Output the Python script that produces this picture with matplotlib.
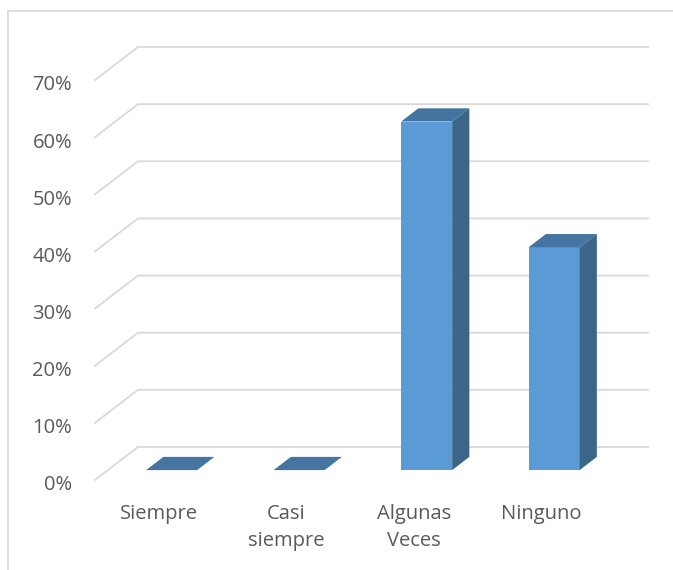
import matplotlib.pyplot as plt
from matplotlib.patches import Polygon
from matplotlib.lines import Line2D

plt.rcParams['font.family'] = ['Open Sans', 'DejaVu Sans']

categorias = ['Siempre', 'Casi\nsiempre', 'Algunas\nVeces', 'Ninguno']
valores = [0.0, 0.0, 0.61, 0.39]
ticks = [0.0, 0.1, 0.2, 0.3, 0.4, 0.5, 0.6, 0.7]
tick_labels = ['0%', '10%', '20%', '30%', '40%', '50%', '60%', '70%']

# profundidad del efecto 3D (en unidades de datos)
DX, DY = 0.337, 0.0578
d1, d2 = 0.3, 0.7      # cara frontal y trasera de las columnas
ancho = 0.4

c_frente = '#5b9bd5'
c_lado = '#3b6589'
c_techo = '#44749f'
c_grid = '#d9d9d9'
c_texto = '#595959'

W, H = 673, 570
fig = plt.figure(figsize=(W / 100, H / 100), dpi=100)

# marco del grafico
fig.add_artist(Line2D([8 / W, 8 / W], [0, 1 - 11 / H], color=c_grid, lw=1.2))
fig.add_artist(Line2D([8 / W, 1], [1 - 11 / H, 1 - 11 / H], color=c_grid, lw=1.2))

ax = fig.add_axes([95 / W, (H - 480) / H, (648 - 95) / W, (480 - 47) / H])
ax.set_xlim(-0.5, 3.5 + DX)
ax.set_ylim(0, 0.7 + DY)
ax.axis('off')

# lineas de division: tramo lateral + pared del fondo
for t, lab in zip(ticks, tick_labels):
    ax.plot([-0.5, -0.5 + DX, 3.5 + DX], [t, t + DY, t + DY],
            color=c_grid, lw=1.3, clip_on=False, zorder=1)
    ax.text(-0.68, t - 0.0095, lab, ha='right', va='center', fontsize=14.5,
            color=c_texto, clip_on=False)

for i, (cat, v) in enumerate(zip(categorias, valores)):
    xl = i - ancho / 2 + d1 * DX
    xr = i + ancho / 2 + d1 * DX
    y0 = d1 * DY
    ox, oy = (d2 - d1) * DX, (d2 - d1) * DY
    if v > 0:
        ax.add_patch(Polygon([(xl, y0), (xr, y0), (xr, y0 + v), (xl, y0 + v)],
                             closed=True, fc=c_frente, ec='none', zorder=3))
        ax.add_patch(Polygon([(xr, y0), (xr + ox, y0 + oy), (xr + ox, y0 + v + oy),
                              (xr, y0 + v)], closed=True, fc=c_lado, ec='none', zorder=3))
    ax.add_patch(Polygon([(xl, y0 + v), (xr, y0 + v), (xr + ox, y0 + v + oy),
                          (xl + ox, y0 + v + oy)], closed=True, fc=c_techo,
                         ec='none', zorder=4))
    ax.text(i, -0.042, cat, ha='center', va='top', fontsize=14.5,
            color=c_texto, linespacing=1.5, clip_on=False)

fig.savefig('out.png', dpi=100)
